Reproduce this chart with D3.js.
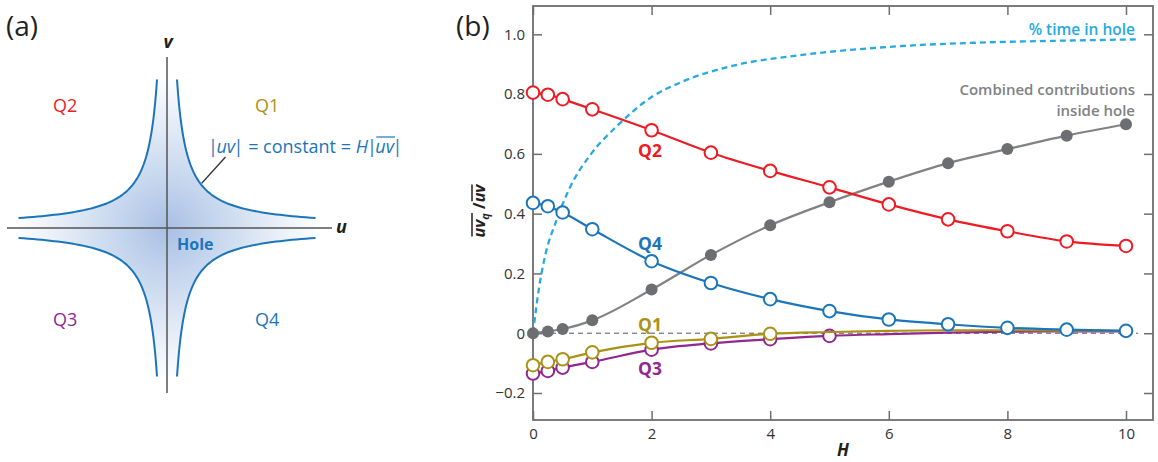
<!DOCTYPE html>
<html>
<head>
<meta charset="utf-8">
<script src="https://cdn.jsdelivr.net/npm/d3@7"></script>
<style>
  body { margin: 0; background: #fff; }
  text { font-family: "Open Sans", "Noto Sans", sans-serif; }
</style>
</head>
<body>
<div id="chart"></div>
<script>

// H thresholds used for the quadrant analysis
var hValues = [0, 0.25, 0.5, 1, 2, 3, 4, 5, 6, 7, 8, 9, 10];
var q2Values = [0.805, 0.798, 0.783, 0.749, 0.679, 0.604, 0.543, 0.488, 0.431, 0.381, 0.341, 0.307, 0.292];
var q4Values = [0.436, 0.425, 0.404, 0.348, 0.241, 0.168, 0.114, 0.074, 0.046, 0.030, 0.018, 0.012, 0.008];
var q1Values = [-0.107, -0.096, -0.087, -0.064, -0.032, -0.019, -0.002, 0.004, 0.008, 0.010, 0.010, 0.009, 0.008];
var q3Values = [-0.135, -0.126, -0.115, -0.096, -0.055, -0.034, -0.020, -0.009, -0.003, 0.002, 0.005, 0.006, 0.006];
var combinedValues = [0, 0.006, 0.014, 0.043, 0.146, 0.262, 0.361, 0.438, 0.507, 0.569, 0.616, 0.661, 0.699];

// fraction of time spent in the hole (dashed curve)
var timeH = [0, 0.1, 0.2, 0.4, 0.6, 1, 1.4, 2, 2.5, 3.4, 4.5, 6, 7.5, 9, 10.2];
var timeValues = [0, 0.15, 0.255, 0.38, 0.478, 0.605, 0.69, 0.79, 0.84, 0.896, 0.93, 0.958, 0.972, 0.979, 0.983];

var xTicks = [0, 2, 4, 6, 8, 10];
var yTicks = [-0.2, 0, 0.2, 0.4, 0.6, 0.8, 1.0];

var width = 1158;
var height = 462;

var svg = d3.select('#chart')
            .append('svg')
            .attr('width', width)
            .attr('height', height);

// ---------------- panel (a) ----------------
var cx = 167, cy = 228;
var uScale = d3.scaleLinear().domain([-1, 1]).range([cx - 150, cx + 150]);
var vScale = d3.scaleLinear().domain([-1, 1]).range([cy + 150, cy - 150]);
var holeC = 0.066;
var tipLen = 0.99;

var defs = svg.append('defs');
var grad = defs.append('radialGradient')
               .attr('id', 'holeGrad')
               .attr('gradientUnits', 'userSpaceOnUse')
               .attr('cx', cx).attr('cy', cy).attr('r', 155);
grad.append('stop').attr('offset', 0).attr('stop-color', '#a9c0e4');
grad.append('stop').attr('offset', 0.3).attr('stop-color', '#c4d5ed');
grad.append('stop').attr('offset', 0.75).attr('stop-color', '#ecf1f9');
grad.append('stop').attr('offset', 1).attr('stop-color', '#ffffff');

// sample one branch of |uv| = c, from the v-tip to the u-tip
var nSamp = 80;
var uSamples = d3.range(nSamp).map(function(i) {
  var a = Math.log(holeC / tipLen), b = Math.log(tipLen);
  return Math.exp(a + (b - a) * i / (nSamp - 1));
});
function branch(su, sv) {
  return uSamples.map(function(u) { return [su * u, sv * holeC / u]; });
}
var q1Branch = branch(1, 1);            // top -> right
var q4Branch = branch(1, -1).reverse(); // right -> bottom
var q3Branch = branch(-1, -1);          // bottom -> left
var q2Branch = branch(-1, 1).reverse(); // left -> top

var hypLine = d3.line()
                .x(function(d) { return uScale(d[0]); })
                .y(function(d) { return vScale(d[1]); });

svg.append('path')
   .attr('d', hypLine(q1Branch.concat(q4Branch, q3Branch, q2Branch)) + 'Z')
   .attr('fill', 'url(#holeGrad)');

// axes of panel (a)
svg.append('line')
   .attr('x1', 7).attr('x2', 332).attr('y1', cy).attr('y2', cy)
   .attr('stroke', '#555').attr('stroke-width', 1.5);
svg.append('line')
   .attr('x1', cx).attr('x2', cx).attr('y1', 57).attr('y2', 393)
   .attr('stroke', '#555').attr('stroke-width', 1.5);

[q1Branch, q2Branch, q3Branch, q4Branch].forEach(function(b) {
  svg.append('path')
     .attr('d', hypLine(b))
     .attr('fill', 'none')
     .attr('stroke', '#1b75bb')
     .attr('stroke-width', 2);
});

svg.append('text').attr('x', 6).attr('y', 36)
   .attr('font-size', 28).attr('fill', '#231f20').text('(a)');

svg.append('text').attr('x', 168).attr('y', 48)
   .attr('text-anchor', 'middle').attr('font-size', 18)
   .attr('font-weight', 'bold').attr('font-style', 'italic')
   .attr('fill', '#231f20').text('v');
svg.append('text').attr('x', 336).attr('y', 233)
   .attr('font-size', 18)
   .attr('font-weight', 'bold').attr('font-style', 'italic')
   .attr('fill', '#231f20').text('u');

var quadLabels = [
  {t: 'Q2', x: 53, y: 112, c: '#ed1c24'},
  {t: 'Q1', x: 255, y: 112, c: '#a99216'},
  {t: 'Q3', x: 53, y: 326, c: '#92278f'},
  {t: 'Q4', x: 255, y: 326, c: '#1b75bb'}
];
svg.selectAll('text.quad')
   .data(quadLabels)
   .enter()
     .append('text')
     .attr('class', 'quad')
     .attr('x', function(d) { return d.x; })
     .attr('y', function(d) { return d.y; })
     .attr('font-size', 18)
     .attr('fill', function(d) { return d.c; })
     .text(function(d) { return d.t; });

svg.append('text').attr('x', 177).attr('y', 250)
   .attr('font-size', 16).attr('font-weight', 'bold')
   .attr('fill', '#1b75bb').text('Hole');

// callout line and equation
svg.append('line')
   .attr('x1', 201.7).attr('y1', 183.3).attr('x2', 225.5).attr('y2', 157)
   .attr('stroke', '#333').attr('stroke-width', 1.3);

var eq = svg.append('text').attr('x', 208).attr('y', 153)
            .attr('font-size', 18).attr('fill', '#1b75bb');
eq.append('tspan').text('|');
eq.append('tspan').attr('font-style', 'italic').attr('dx', -1.5).text('uv');
eq.append('tspan').attr('dx', -1.5).text('| = constant = ');
eq.append('tspan').attr('font-style', 'italic').text('H');
eq.append('tspan').attr('dx', -1).text('|');
eq.append('tspan').attr('font-style', 'italic').attr('dx', -1.5).text('uv');
eq.append('tspan').attr('dx', -1.5).text('|');
var eqNode = eq.node();
var nChars = eqNode.getNumberOfChars();
var ovStart = eqNode.getStartPositionOfChar(nChars - 3);
var ovEnd = eqNode.getEndPositionOfChar(nChars - 2);
svg.append('line')
   .attr('x1', ovStart.x + 1).attr('x2', ovEnd.x + 1)
   .attr('y1', 137).attr('y2', 137)
   .attr('stroke', '#1b75bb').attr('stroke-width', 1.2);

// ---------------- panel (b) ----------------
var plotLeft = 533, plotRight = 1153, plotTop = 6, plotBottom = 420;

var xScale = d3.scaleLinear().domain([0, 10]).range([plotLeft, 1126]);
var yScale = d3.scaleLinear().domain([-0.2, 1.0]).range([393, 34.3]);

svg.append('text').attr('x', 456).attr('y', 36)
   .attr('font-size', 28).attr('fill', '#231f20').text('(b)');

var fmt = function(d) { return d === 0 ? '0' : d3.format('.1f')(d); };

var xAxis = svg.append('g')
   .attr('transform', 'translate(0,' + plotBottom + ')')
   .call(d3.axisBottom(xScale).tickValues(xTicks).tickSize(-9).tickPadding(8));
var xAxisTop = svg.append('g')
   .attr('transform', 'translate(0,' + plotTop + ')')
   .call(d3.axisTop(xScale).tickValues(xTicks).tickSize(-9).tickFormat(''));
var yAxis = svg.append('g')
   .attr('transform', 'translate(' + plotLeft + ',0)')
   .call(d3.axisLeft(yScale).tickValues(yTicks).tickSize(-9).tickPadding(8).tickFormat(fmt));
var yAxisRight = svg.append('g')
   .attr('transform', 'translate(' + plotRight + ',0)')
   .call(d3.axisRight(yScale).tickValues(yTicks).tickSize(-9).tickFormat(''));

[xAxis, xAxisTop, yAxis, yAxisRight].forEach(function(g) {
  g.select('.domain').remove();
  g.selectAll('line').attr('stroke', '#6d6e71').attr('stroke-width', 1.5);
  g.selectAll('text')
   .attr('font-size', 15)
   .attr('fill', '#333')
   .style('font-family', '"Open Sans", sans-serif');
});

svg.append('rect')
   .attr('x', plotLeft).attr('y', plotTop)
   .attr('width', plotRight - plotLeft).attr('height', plotBottom - plotTop)
   .attr('fill', 'none')
   .attr('stroke', '#6d6e71')
   .attr('stroke-width', 1.8);

// zero reference line
svg.append('line')
   .attr('x1', xScale(0)).attr('x2', xScale(10.2))
   .attr('y1', yScale(0)).attr('y2', yScale(0))
   .attr('stroke', '#555').attr('stroke-width', 1)
   .attr('stroke-dasharray', '5,4');

var curve = d3.line()
              .curve(d3.curveMonotoneX)
              .x(function(d) { return xScale(d[0]); })
              .y(function(d) { return yScale(d[1]); });

// % time in hole
svg.append('path')
   .attr('d', curve(d3.zip(timeH, timeValues)))
   .attr('fill', 'none')
   .attr('stroke', '#27aae1')
   .attr('stroke-width', 2.3)
   .attr('stroke-dasharray', '6,4');

var series = [
  {vals: combinedValues, color: '#808285', mark: '#6d6e71', filled: true, maxH: 10},
  {vals: q3Values, color: '#92278f', filled: false, maxH: 5},
  {vals: q1Values, color: '#a99216', filled: false, maxH: 4},
  {vals: q2Values, color: '#ed1c24', filled: false, maxH: 10},
  {vals: q4Values, color: '#1b75bb', filled: false, maxH: 10}
];

series.forEach(function(s) {
  var pts = d3.zip(hValues, s.vals);
  svg.append('path')
     .attr('d', curve(pts))
     .attr('fill', 'none')
     .attr('stroke', s.color)
     .attr('stroke-width', 2.2);
  svg.selectAll(null)
     .data(pts.filter(function(p) { return p[0] <= s.maxH; }))
     .enter()
       .append('circle')
       .attr('cx', function(d) { return xScale(d[0]); })
       .attr('cy', function(d) { return yScale(d[1]); })
       .attr('r', s.filled ? 6 : 6.3)
       .attr('fill', s.filled ? s.mark : '#fff')
       .attr('stroke', s.filled ? 'none' : s.color)
       .attr('stroke-width', 2);
});

var seriesLabels = [
  {t: 'Q2', y: 157, c: '#ed1c24'},
  {t: 'Q4', y: 250, c: '#1b75bb'},
  {t: 'Q1', y: 331, c: '#a99216'},
  {t: 'Q3', y: 375, c: '#92278f'}
];
svg.selectAll('text.slab')
   .data(seriesLabels)
   .enter()
     .append('text')
     .attr('class', 'slab')
     .attr('x', 638)
     .attr('y', function(d) { return d.y; })
     .attr('font-size', 17.5)
     .attr('font-weight', 'bold')
     .attr('fill', function(d) { return d.c; })
     .text(function(d) { return d.t; });

svg.append('text').attr('x', 1135).attr('y', 35)
   .attr('text-anchor', 'end').attr('font-size', 15.5)
   .attr('font-weight', 600).attr('fill', '#27aae1')
   .text('% time in hole');

svg.append('text').attr('x', 1135).attr('y', 95)
   .attr('text-anchor', 'end').attr('font-size', 15)
   .attr('font-weight', 600).attr('fill', '#808285')
   .text('Combined contributions');
svg.append('text').attr('x', 1135).attr('y', 116)
   .attr('text-anchor', 'end').attr('font-size', 15)
   .attr('font-weight', 600).attr('fill', '#808285')
   .text('inside hole');

// x label
svg.append('text').attr('x', 843).attr('y', 456)
   .attr('text-anchor', 'middle').attr('font-size', 17)
   .attr('font-weight', 'bold').attr('font-style', 'italic')
   .attr('fill', '#231f20').text('H');

// y label: overline(uv)_q / overline(uv)
var yl = svg.append('g').attr('transform', 'translate(485,211) rotate(-90)');
var ylt = yl.append('text')
            .attr('text-anchor', 'middle')
            .attr('font-size', 16)
            .attr('font-weight', 'bold')
            .attr('font-style', 'italic')
            .attr('fill', '#231f20');
ylt.append('tspan').text('uv');
ylt.append('tspan').attr('font-size', 11).attr('dy', 4).text('q');
ylt.append('tspan').attr('dy', -4).attr('font-style', 'normal').text(' /');
ylt.append('tspan').text('uv');
var yn = ylt.node();
var yc = yn.getNumberOfChars();
[[0, 2], [yc - 2, yc - 1]].forEach(function(r) {
  var a = yn.getStartPositionOfChar(r[0]);
  var b = yn.getEndPositionOfChar(r[1]);
  yl.append('line')
    .attr('x1', a.x + 1).attr('x2', b.x)
    .attr('y1', -13).attr('y2', -13)
    .attr('stroke', '#231f20').attr('stroke-width', 1.5);
});

</script>
</body>
</html>
